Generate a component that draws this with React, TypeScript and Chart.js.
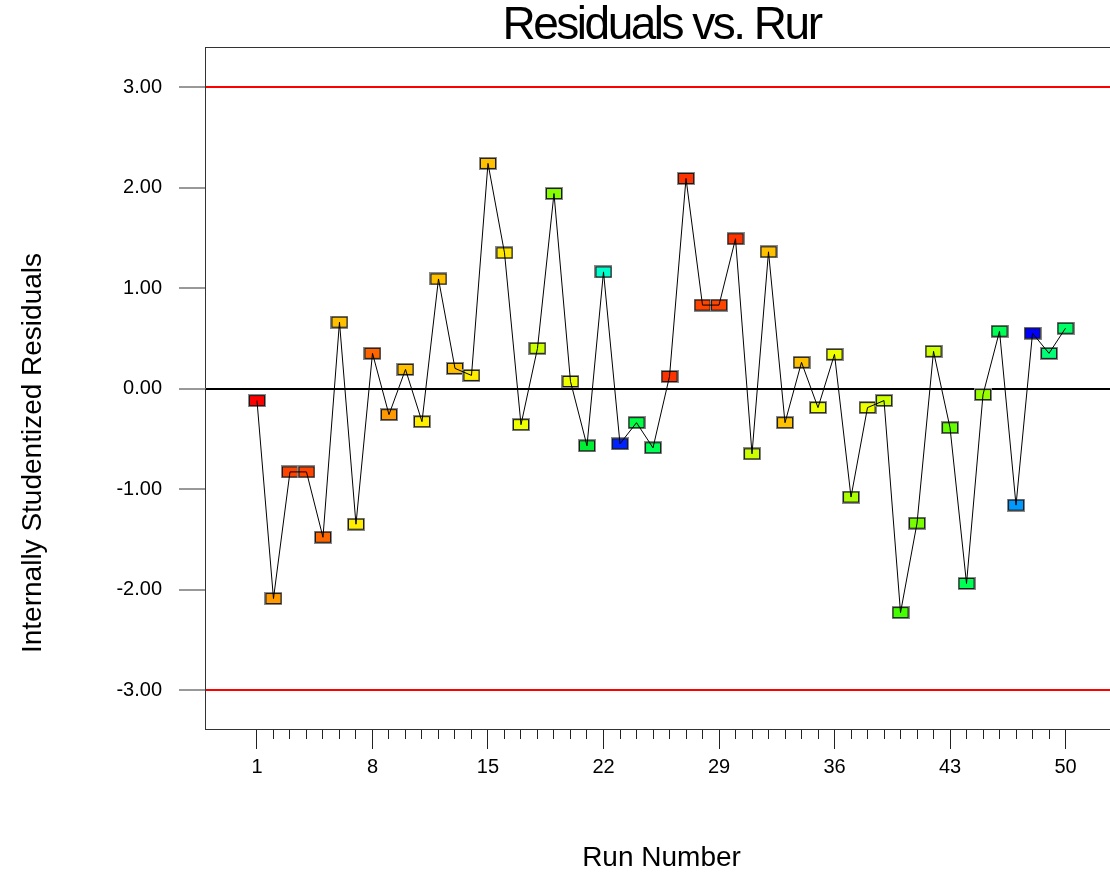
import React, { useEffect, useRef } from 'react';
import { Chart, registerables } from 'chart.js';

Chart.register(...registerables);

// ---------- data ----------
const runs = [
  1, 2, 3, 4, 5, 6, 7, 8, 9, 10,
  11, 12, 13, 14, 15, 16, 17, 18, 19, 20,
  21, 22, 23, 24, 25, 26, 27, 28, 29, 30,
  31, 32, 33, 34, 35, 36, 37, 38, 39, 40,
  41, 42, 43, 44, 45, 46, 47, 48, 49, 50,
];

const residuals = [
  -0.12, -2.09, -0.83, -0.83, -1.48, 0.66, -1.35, 0.35, -0.26, 0.19,
  -0.33, 1.09, 0.2, 0.13, 2.24, 1.35, -0.36, 0.4, 1.94, 0.07,
  -0.57, 1.16, -0.55, -0.34, -0.59, 0.12, 2.09, 0.83, 0.83, 1.49,
  -0.65, 1.36, -0.34, 0.26, -0.19, 0.34, -1.08, -0.19, -0.12, -2.23,
  -1.34, 0.37, -0.39, -1.94, -0.06, 0.57, -1.16, 0.55, 0.35, 0.6,
];

const pointColors = [
  '#ff0000', '#ff9900', '#ff4400', '#ff4400', '#ff6600', '#ffc000', '#ffee00', '#ff6600', '#ff9900', '#ffc000',
  '#ffee00', '#ffc000', '#ffc000', '#ffee00', '#ffc000', '#ffe600', '#eeff00', '#ccff00', '#88ff00', '#eeff00',
  '#00ee33', '#00ffcc', '#0022ff', '#00ff44', '#00ff55', '#ff3300', '#ff3300', '#ff4400', '#ff4400', '#ff3300',
  '#ccff00', '#ffc000', '#ffc000', '#ffc000', '#eeff00', '#eeff00', '#aaff00', '#eeff00', '#ccff00', '#44ff00',
  '#77ff00', '#ccff00', '#66ff00', '#00ff55', '#99ff00', '#00ff55', '#0099ff', '#0000ff', '#00ff77', '#00ff66',
];

const xTickValues = [1, 8, 15, 22, 29, 36, 43, 50];
const yTickValues = [3, 2, 1, 0, -1, -2, -3];
const limitValues = [3, -3];
const centerValue = 0;

const chartTitle = 'Residuals vs. Rur';
const xAxisTitle = 'Run Number';
const yAxisTitle = 'Internally Studentized Residuals';

// ---------- layout / style ----------
const FONT = "'Liberation Sans', Arial, Helvetica, sans-serif";
const X_MIN = -2.15;
const X_MAX = 53.18;
const Y_MIN = -3.388;
const Y_MAX = 3.398;

function makeMarker(color: string): HTMLCanvasElement {
  const c = document.createElement('canvas');
  c.width = 18;
  c.height = 13;
  const g = c.getContext('2d')!;
  g.fillStyle = '#8a8a8a';
  g.fillRect(0, 0, 18, 13);
  g.fillStyle = '#1a1a1a';
  g.fillRect(1, 1, 16, 11);
  g.fillStyle = color;
  g.fillRect(2, 2, 14, 9);
  return c;
}

const spacingPlugin = {
  id: 'titleSpacing',
  beforeDraw(chart: any) {
    chart.ctx.letterSpacing = '-2.5px';
  },
  beforeDatasetsDraw(chart: any) {
    chart.ctx.letterSpacing = '0px';
  },
  afterDraw(chart: any) {
    chart.ctx.letterSpacing = '0px';
  },
};

const yTitlePlacement = {
  id: 'yTitlePlacement',
  afterLayout(chart: any) {
    const s = chart.scales.yTitle;
    if (s) {
      s.top = 250;
      s.bottom = 656;
    }
  },
};

export default function App() {
  const ref = useRef<HTMLCanvasElement | null>(null);

  useEffect(() => {
    if (!ref.current) return;
    const points = runs.map((r, i) => ({ x: r, y: residuals[i] }));
    const markers = pointColors.map((c) => makeMarker(c));

    const chart = new Chart(ref.current, {
      type: 'line',
      data: {
        datasets: [
          {
            label: 'path',
            data: points,
            borderColor: '#000000',
            borderWidth: 1,
            pointRadius: 0,
            pointHoverRadius: 0,
            fill: false,
            tension: 0,
            order: 0,
            xAxisID: 'x',
            yAxisID: 'y',
          },
          {
            label: 'runs',
            data: points,
            showLine: false,
            pointStyle: markers as any,
            pointRadius: 6,
            pointHoverRadius: 6,
            order: 1,
            xAxisID: 'x',
            yAxisID: 'y',
          },
        ],
      },
      options: {
        responsive: false,
        animation: false,
        devicePixelRatio: 1,
        layout: { padding: { left: 0, right: 6, top: 0, bottom: 0 } },
        plugins: {
          legend: { display: false },
          tooltip: { enabled: false },
          title: {
            display: true,
            text: chartTitle,
            fullSize: false,
            position: 'top',
            align: 'center',
            color: '#000000',
            font: { family: FONT, size: 46, lineHeight: 1, weight: 'normal' },
            padding: { top: 3, bottom: -2 },
          },
        },
        scales: {
          x: {
            type: 'linear',
            position: 'bottom',
            weight: 1,
            min: X_MIN,
            max: X_MAX,
            afterBuildTicks: (s: any) => {
              s.ticks = xTickValues.map((v) => ({ value: v }));
            },
            afterFit: (s: any) => {
              s.height = 146;
            },
            grid: {
              display: true,
              drawOnChartArea: false,
              drawTicks: true,
              tickLength: 20,
              tickColor: '#222222',
              tickWidth: 1,
              color: '#222222',
              z: 1,
            },
            border: { display: true, color: '#333333', width: 1, z: 2 },
            ticks: {
              z: 1,
              padding: 6,
              color: '#000000',
              autoSkip: false,
              maxRotation: 0,
              font: { family: FONT, size: 20 },
              callback: (v: any) => String(v),
            },
            title: {
              display: true,
              text: xAxisTitle,
              color: '#000000',
              font: { family: FONT, size: 28, lineHeight: 1 },
              padding: { top: 0, bottom: 3 },
            },
          },
          xMinor: {
            type: 'linear',
            position: 'bottom',
            weight: 0,
            min: X_MIN,
            max: X_MAX,
            afterBuildTicks: (s: any) => {
              s.ticks = runs.map((v) => ({ value: v }));
            },
            afterFit: (s: any) => {
              s.height = 0;
            },
            grid: {
              display: true,
              drawOnChartArea: false,
              drawTicks: true,
              tickLength: 10,
              tickColor: '#222222',
              tickWidth: 1,
              color: '#222222',
            },
            border: { display: false },
            ticks: { display: false, autoSkip: false },
          },
          xTop: {
            type: 'linear',
            position: 'top',
            weight: 0,
            min: X_MIN,
            max: X_MAX,
            afterFit: (s: any) => {
              s.height = 0;
            },
            grid: { display: false },
            border: { display: true, color: '#333333', width: 1 },
            ticks: { display: false },
          },
          y: {
            type: 'linear',
            position: 'left',
            weight: 0,
            min: Y_MIN,
            max: Y_MAX,
            afterBuildTicks: (s: any) => {
              s.ticks = yTickValues.map((v) => ({ value: v }));
            },
            afterFit: (s: any) => {
              s.width = 165;
            },
            grid: {
              display: true,
              drawOnChartArea: true,
              drawTicks: true,
              tickLength: 26,
              tickColor: '#333333',
              tickWidth: 1,
              color: (c: any) => {
                const v = c.tick ? c.tick.value : null;
                if (limitValues.includes(v)) return '#ff0000';
                if (v === centerValue) return '#000000';
                return 'rgba(0,0,0,0)';
              },
              lineWidth: (c: any) => {
                const v = c.tick ? c.tick.value : null;
                return limitValues.includes(v) || v === centerValue ? 2 : 0;
              },
            },
            border: { display: true, color: '#333333', width: 1 },
            ticks: {
              z: 1,
              padding: 17,
              color: '#000000',
              font: { family: FONT, size: 20 },
              callback: (v: any) => Number(v).toFixed(2),
            },
            title: { display: false },
          },
          yTitle: {
            type: 'linear',
            position: 'left',
            weight: 1,
            min: 0,
            max: 1,
            afterFit: (s: any) => {
              s.width = 40;
            },
            grid: { display: false, z: 1 },
            border: { display: false },
            ticks: { display: false },
            title: {
              display: true,
              text: yAxisTitle,
              color: '#000000',
              font: { family: FONT, size: 28, lineHeight: 1 },
              padding: { top: 19, bottom: 0 },
            },
          },
        },
      } as any,
      plugins: [spacingPlugin, yTitlePlacement],
    });

    return () => chart.destroy();
  }, []);

  return (
    <div
      style={{
        position: 'absolute',
        left: 0,
        top: 0,
        width: 1110,
        height: 875,
        overflow: 'hidden',
        background: '#ffffff',
      }}
    >
      <canvas ref={ref} width={1125} height={875} style={{ display: 'block' }} />
    </div>
  );
}
